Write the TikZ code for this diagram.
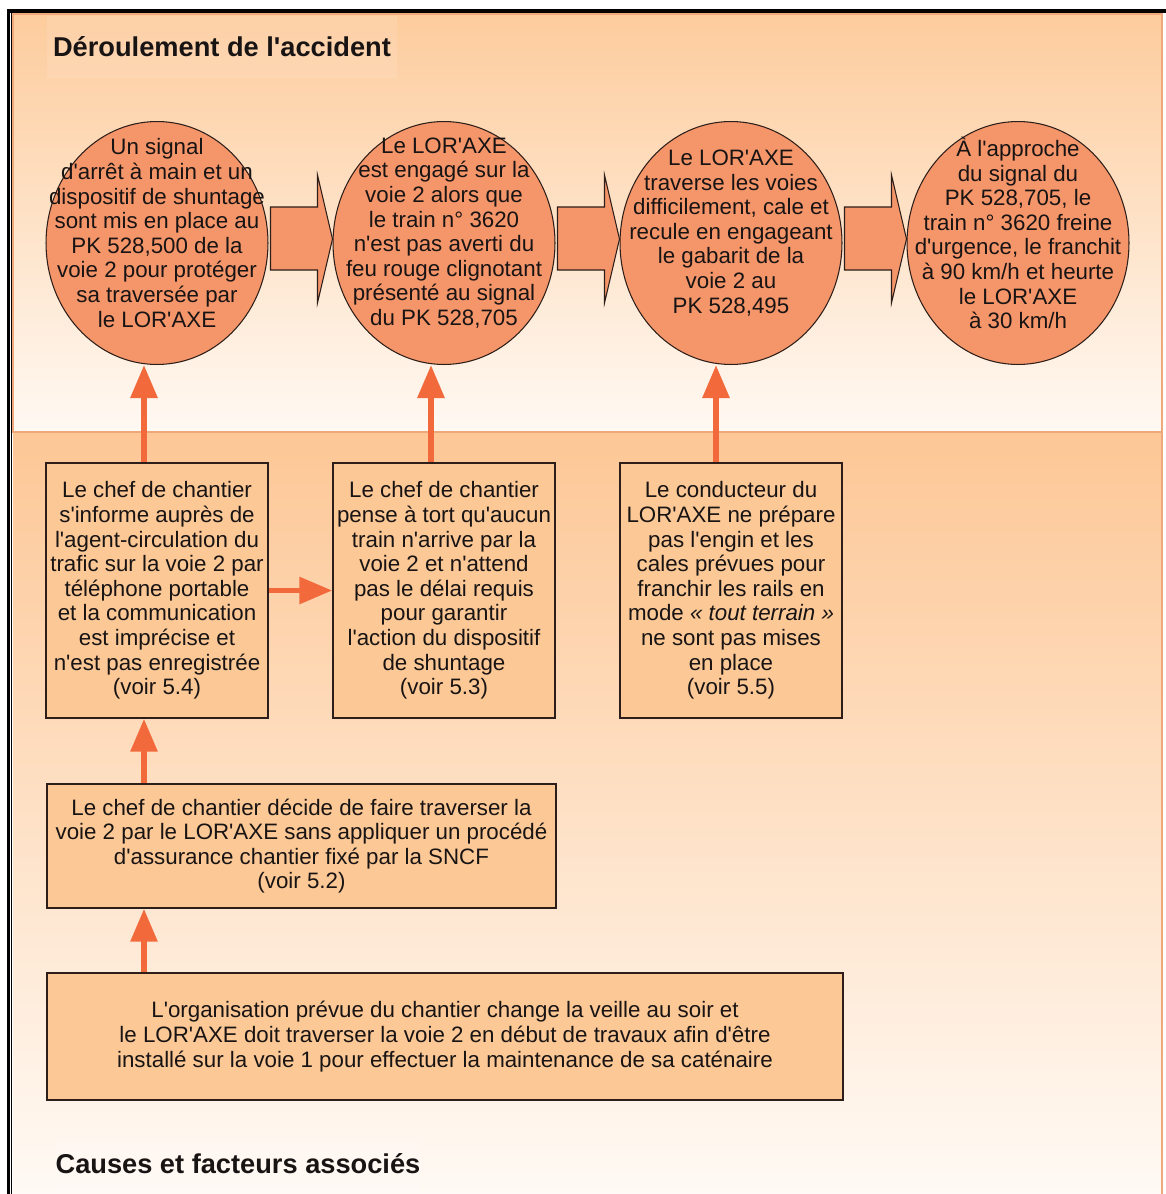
\documentclass[tikz,border=0pt]{standalone}
\usepackage{fontspec}
\setmainfont{Liberation Sans}[Ligatures=TeXOff]
\usetikzlibrary{shapes.geometric,arrows.meta,calc}
\definecolor{ellfill}{RGB}{245,150,106}
\definecolor{boxfill}{RGB}{252,200,150}
\definecolor{arr}{RGB}{242,105,60}
\definecolor{edge}{RGB}{45,30,25}
\definecolor{ink}{RGB}{25,20,20}
\definecolor{pborder}{RGB}{238,168,122}
\definecolor{uptop}{RGB}{253,204,157}
\definecolor{upbot}{RGB}{255,249,243}
\definecolor{lotop}{RGB}{253,199,150}
\definecolor{lobot}{RGB}{255,250,245}
\newcommand\bkarrow[2]{%
  \draw[blk] ($(#1.east)+(2,-36)$) -- ($(#2.west)+(-15,-36)$) -- ($(#2.west)+(-15,-68)$)
    -- ($(#2.west)+(0,-4)$) -- ($(#2.west)+(-15,60)$) -- ($(#2.west)+(-15,27)$)
    -- ($(#1.east)+(2,27)$) -- cycle;}
\begin{document}
\begin{tikzpicture}[x=0.02cm,y=-0.02cm,
  every node/.style={font=\fontsize{12.7}{14}\selectfont, text=ink},
  ell/.style={ellipse, draw=edge, line width=0.6pt, fill=ellfill,
    minimum width=4.44cm, minimum height=4.86cm, inner sep=0pt},
  etxt/.style={align=center, inner sep=0pt},
  cbox/.style={rectangle, draw=edge, line width=0.8pt, fill=boxfill, align=center, inner sep=0pt},
  blk/.style={draw=edge, line width=0.6pt, fill=ellfill},
  up/.style={draw=arr, line width=3.4pt, -{Triangle[width=0.52cm,length=0.66cm]}},
  heading/.style={font=\fontsize{15.5}{18}\selectfont\bfseries, fill=white, fill opacity=0.1,
    text opacity=1, minimum width=7cm, minimum height=1.26cm, inner sep=0pt}
]
\useasboundingbox (0,0) rectangle (1166,1194);
% panels
\shade[top color=uptop, bottom color=upbot] (13,14) rectangle (1162,432);
\shade[top color=lotop, bottom color=lobot] (13,432) rectangle (1162,1194);
\draw[pborder, line width=0.8pt] (13,14) rectangle (1162,432);
\draw[pborder, line width=0.8pt] (13,432) -- (1162,432) -- (1162,1194);
% frame
\draw[black, line width=2.2pt] (8,11) -- (1166,11);
\draw[black, line width=1.6pt] (8.7,9) -- (8.7,1194);
\draw[black, line width=0.6pt] (11.8,11) -- (11.8,1194);
% headings
\node[heading] (h1) at (222,47) {Déroulement de l'accident};
\node[heading] (h2) at (238,1164) {Causes et facteurs associés};
% ellipses
\node[ell] (e1) at (157,243) {};
\node[ell] (e2) at (444,243) {};
\node[ell] (e3) at (731,243) {};
\node[ell] (e4) at (1018,243) {};
\node[etxt] (t1) at (157,233) {Un signal\\d'arrêt à main et un\\dispositif de shuntage\\sont mis en place au\\PK 528,500 de la\\voie 2 pour protéger\\sa traversée par\\le LOR'AXE};
\node[etxt] (t2) at (444,233) {Le LOR'AXE\\est engagé sur la\\voie 2 alors que\\le train n° 3620\\n'est pas averti du\\feu rouge clignotant\\présenté au signal\\du PK 528,705};
\node[etxt] (t3) at (731,233) {Le LOR'AXE\\traverse les voies\\difficilement, cale et\\recule en engageant\\le gabarit de la\\voie 2 au\\PK 528,495};
\node[etxt] (t4) at (1018,233) {À l'approche\\du signal du\\PK 528,705, le\\train n° 3620 freine\\d'urgence, le franchit\\à 90 km/h et heurte\\le LOR'AXE\\à 30 km/h};
\bkarrow{e1}{e2}
\bkarrow{e2}{e3}
\bkarrow{e3}{e4}
% boxes
\node[cbox, minimum width=4.44cm, minimum height=5.1cm] (b1) at (157,590.5) {Le chef de chantier\\s'informe auprès de\\l'agent-circulation du\\trafic sur la voie 2 par\\téléphone portable\\et la communication\\est imprécise et\\n'est pas enregistrée\\(voir 5.4)};
\node[cbox, minimum width=4.44cm, minimum height=5.1cm] (b2) at (444,590.5) {Le chef de chantier\\pense à tort qu'aucun\\train n'arrive par la\\voie 2 et n'attend\\pas le délai requis\\pour garantir\\l'action du dispositif\\de shuntage\\(voir 5.3)};
\node[cbox, minimum width=4.44cm, minimum height=5.1cm] (b3) at (731,590.5) {Le conducteur du\\LOR'AXE ne prépare\\pas l'engin et les\\cales prévues pour\\franchir les rails en\\mode \textit{« tout terrain »}\\ne sont pas mises\\en place\\(voir 5.5)};
\node[cbox, minimum width=10.18cm, minimum height=2.48cm] (b4) at (301.5,846) {Le chef de chantier décide de faire traverser la\\voie 2 par le LOR'AXE sans appliquer un procédé\\d'assurance chantier fixé par la SNCF\\(voir 5.2)};
\node[cbox, minimum width=15.92cm, minimum height=2.54cm] (b5) at (445,1036.5) {L'organisation prévue du chantier change la veille au soir et\\le LOR'AXE doit traverser la voie 2 en début de travaux afin d'être\\installé sur la voie 1 pour effectuer la maintenance de sa caténaire};
% connectors
\coordinate (k1) at ($(b1.south)+(-13,0)$);
\draw[up] ($(b1.north)+(-13,0)$) -- ($(e1.south)+(-13,0)$);
\draw[up] ($(b2.north)+(-13,0)$) -- ($(e2.south)+(-13,0)$);
\draw[up] ($(b3.north)+(-15,0)$) -- ($(e3.south)+(-15,0)$);
\draw[up] (b4.north -| k1) -- (k1);
\draw[up] (b5.north -| k1) -- (b4.south -| k1);
\draw[up] (b1) -- (b2);
\end{tikzpicture}
\end{document}
